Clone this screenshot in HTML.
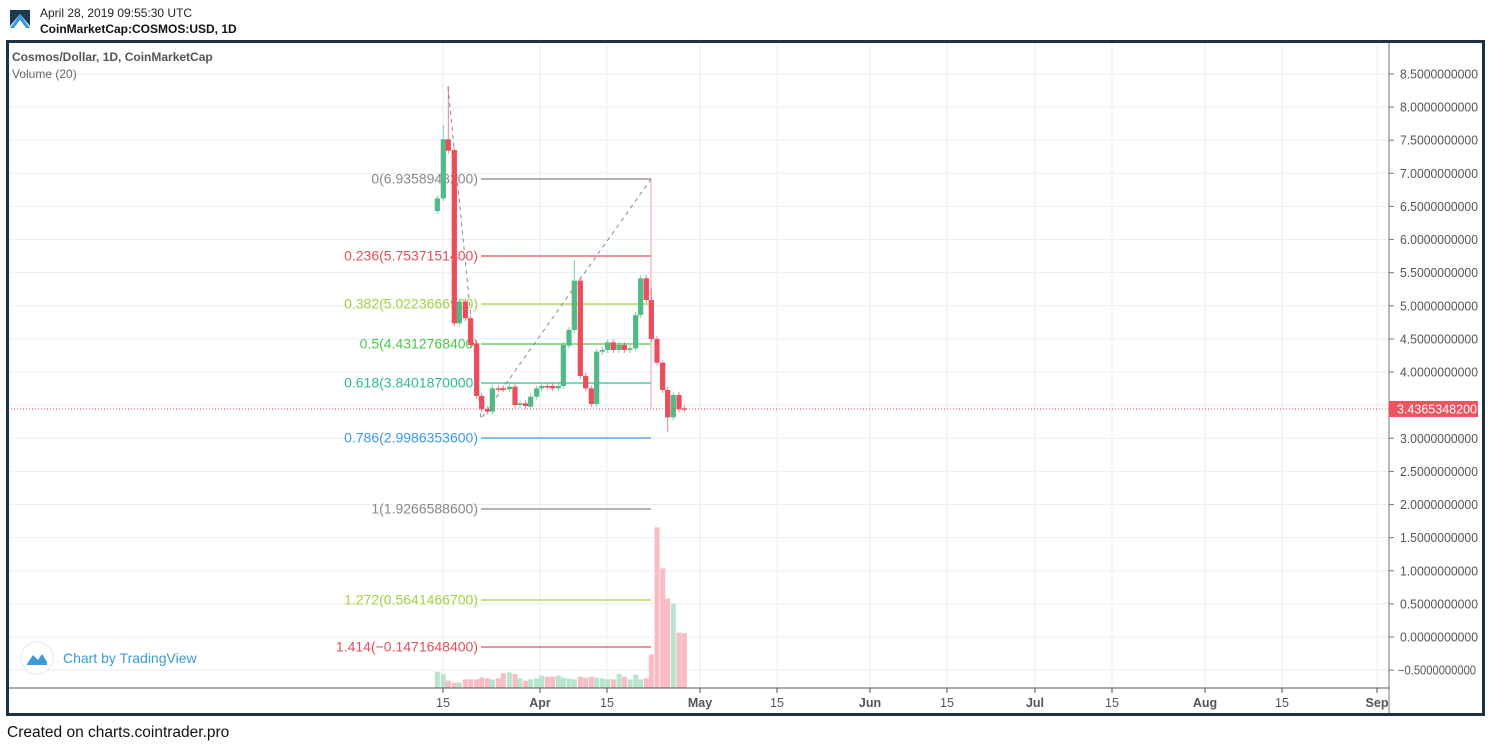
<!DOCTYPE html>
<html><head><meta charset="utf-8"><style>
body{margin:0;background:#fff;width:1489px;height:746px;overflow:hidden;font-family:"Liberation Sans",sans-serif}
svg{position:absolute;left:0;top:0}
</style></head><body>
<svg id="s" width="1489" height="746" xmlns="http://www.w3.org/2000/svg" font-family="Liberation Sans, sans-serif">
<rect x="0" y="0" width="1489" height="746" fill="#fff"/>
<g id="grid"></g>
<g id="vol"></g>
<g id="fib"></g>
<g id="c"></g>
<line x1="8" y1="409" x2="1389" y2="409" stroke="#e0505a" stroke-width="1" stroke-dasharray="1,2"/>
<line x1="1389" y1="42" x2="1389" y2="714" stroke="#777" stroke-width="1"/>
<line x1="8" y1="688" x2="1389" y2="688" stroke="#555" stroke-width="1"/>
<g id="ax" font-size="12.5" fill="#555"></g>
<rect x="1389" y="401" width="89" height="16" fill="#ef5360"/>
<text x="1397" y="413.5" font-size="12.5" fill="#fff" textLength="80" lengthAdjust="spacingAndGlyphs">3.4365348200</text>
<rect x="7.5" y="41.5" width="1476" height="673" fill="none" stroke="#1f3140" stroke-width="3"/>
<polygon points="10,28 20,14 30,28 26,28 20,20 14,28" fill="#3a9bd8"/>
<polygon points="10,10 30,10 30,26 20,14 10,26" fill="#1e3a4e"/>
<text x="40" y="17" font-size="12" fill="#222">April 28, 2019 09:55:30 UTC</text>
<text x="40" y="33" font-size="12" fill="#111" font-weight="bold">CoinMarketCap:COSMOS:USD, 1D</text>
<text x="12" y="61" font-size="12" fill="#555" font-weight="bold">Cosmos/Dollar, 1D, CoinMarketCap</text>
<text x="12" y="78" font-size="12" fill="#666">Volume (20)</text>
<circle cx="37" cy="658" r="16" fill="#fff" stroke="#e6e6e6"/>
<path d="M27,664 L33,655 L38,660 L42,654 L47,662 L47,665 L27,665Z" fill="#3a9bd8"/>
<text x="63" y="663" font-size="14" fill="#3a9bd8">Chart by TradingView</text>
<text x="7" y="737" font-size="15.5" fill="#111">Created on charts.cointrader.pro</text>
</svg>
<script>
const NS="http://www.w3.org/2000/svg";
function el(p,t,a,txt){const e=document.createElementNS(NS,t);for(const k in a)e.setAttribute(k,a[k]);if(txt!==undefined)e.textContent=txt;document.getElementById(p).appendChild(e);return e;}
const Y=v=>637-66.24*v;
for(let v=-0.5;v<=8.51;v+=0.5){const y=Y(v);el('grid','line',{x1:8,x2:1389,y1:y,y2:y,stroke:'#e9eff4'});
 el('ax','line',{x1:1389,x2:1394,y1:y,y2:y,stroke:'#777'});
 if(Math.abs(v-3.5)<0.01) continue;
 if(v<0) el('ax','text',{x:1398,y:y+4.5,textLength:78,lengthAdjust:'spacingAndGlyphs'},'\u22120.5000000000');
 else el('ax','text',{x:1400,y:y+4.5,textLength:78,lengthAdjust:'spacingAndGlyphs'},v.toFixed(10));}
const xs=[[443,'15'],[540,'Apr'],[607,'15'],[700,'May'],[777,'15'],[870,'Jun'],[947,'15'],[1035,'Jul'],[1112,'15'],[1205,'Aug'],[1282,'15'],[1377,'Sep']];
xs.forEach(([x,t])=>{el('grid','line',{x1:x,x2:x,y1:42,y2:688,stroke:'#e9eff4'});
 el('ax','line',{x1:x,x2:x,y1:688,y2:693,stroke:'#555'});
 const e=el('ax','text',{x:x,y:707,'text-anchor':'middle'},t);if(isNaN(t))e.setAttribute('font-weight','bold');});
const C=[[52,393,355],[70,355,178],[85,178,212],[103,210,730],[118,730,665],[136,665,715],[152,715,795],[170,790,948],[185,948,988],[202,988,995],[217,995,925],[235,925,928],[250,925,928],[268,928,920],[285,920,975],[300,975,970],[317,970,978],[332,980,950],[350,950,925],[365,925,918],[382,918,920],[398,918,925],[415,925,918],[430,918,795],[447,797,750],[463,750,602],[481,602,888],[497,888,925],[514,925,972],[530,972,815],[547,815,810],[563,810,787],[580,787,810],[597,810,795],[613,795,810],[630,810,805],[647,805,705],[662,705,595],[679,595,660],[694,660,777],[711,777,848],[728,848,930],[743,930,1012],[760,1012,945],[777,945,988],[793,985,988]];
const V=[515,522,542,548,548,538,538,538,532,535,538,535,520,517,522,535,542,538,535,527,530,530,527,533,535,538,530,533,530,533,535,538,538,522,530,538,524,538,535,463,82,205,296,310,398,400];
C.forEach((c,i)=>{const x=420+c[0]/3,o=80+c[1]/3,cl=80+c[2]/3;const up=cl<o;const col=up?'#53b987':'#eb4d5c';
 const t=Math.min(o,cl),b=Math.max(o,cl);
 let hi=t-3,lo=b+3; if(i==2)hi=86; if(i==1)hi=125; if(i==25)hi=260; if(i==38)hi=275; if(i==42)lo=432; if(i==39)hi=288;
 el('c','line',{x1:x,x2:x,y1:hi,y2:lo,stroke:col,'stroke-opacity':0.7});
 el('c','rect',{x:x-2.6,y:t,width:5.2,height:Math.max(b-t,1.5),fill:col});
 const vt=500+V[i]/3;el('vol','rect',{x:x-2.5,y:vt,width:5,height:688-vt,fill:up?'#b9e4cf':'#f8bcc2'});});
const F=[['0(6.9358948200)',179,'#888'],['0.236(5.7537151400)',256,'#e0505a'],['0.382(5.0223666900)',304,'#a5d13d'],['0.5(4.4312768400)',344,'#4cc64c'],['0.618(3.8401870000)',383,'#2bbf8a'],['0.786(2.9986353600)',438,'#3c9ae0'],['1(1.9266588600)',509,'#888'],['1.272(0.5641466700)',600,'#a5d13d'],['1.414(\u22120.1471648400)',647,'#e0505a']];
F.forEach(([t,y,c])=>{el('fib','line',{x1:481,x2:651,y1:y,y2:y,stroke:c,'stroke-width':1.3});
 el('fib','text',{x:478,y:y+4.5,'text-anchor':'end','font-size':14,fill:c},t);});
el('fib','line',{x1:651,x2:651,y1:179,y2:409,stroke:'#f2a0a8'});
el('fib','polyline',{points:'448,87 481,419 651,179',fill:'none',stroke:'#888','stroke-dasharray':'4,4'});
</script>
</body></html>
